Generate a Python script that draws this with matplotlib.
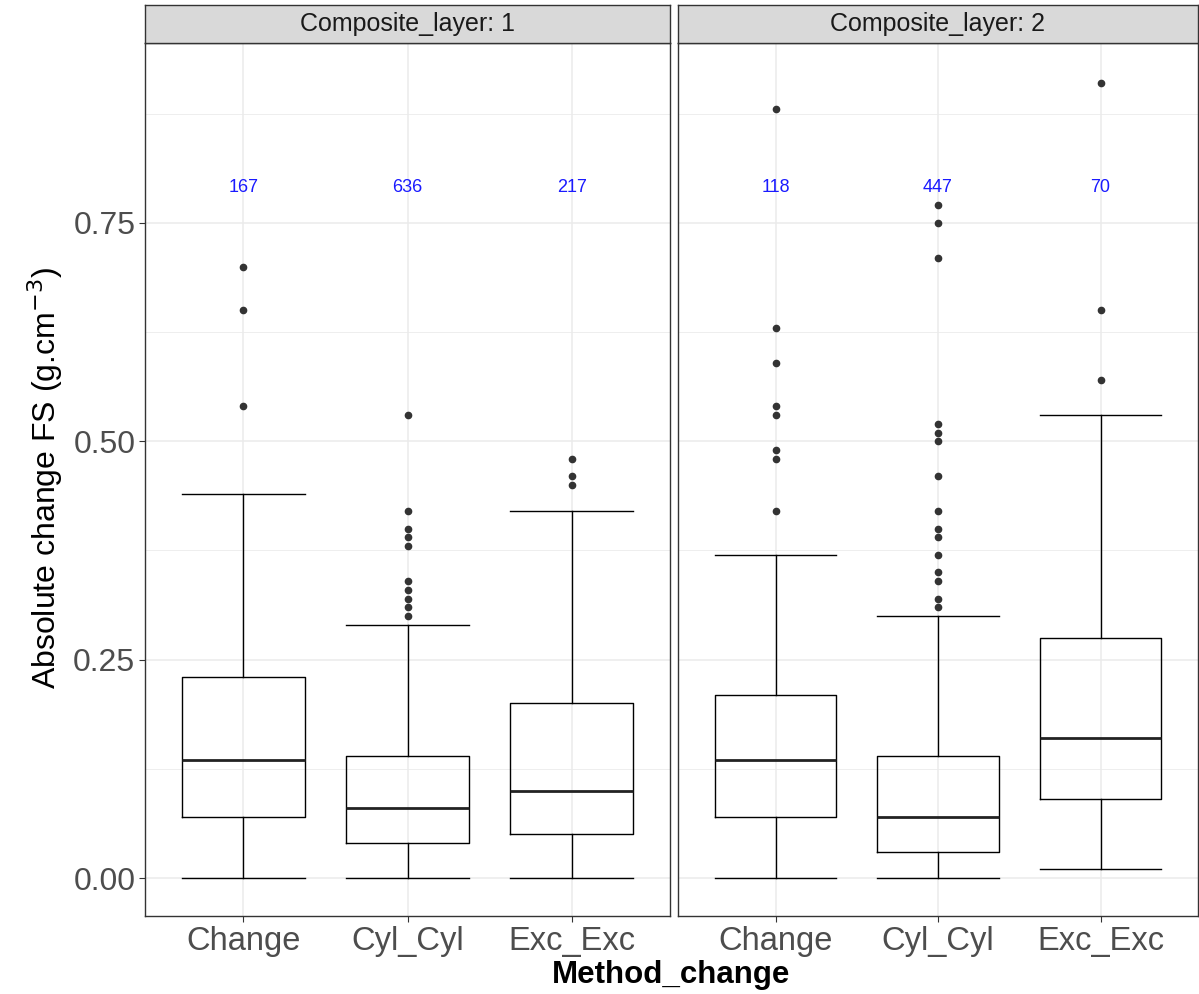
import matplotlib
matplotlib.use("Agg")
import matplotlib.pyplot as plt
from matplotlib.ticker import MultipleLocator

plt.rcParams['font.family'] = ['Liberation Sans', 'DejaVu Sans']

categories = ["Change", "Cyl_Cyl", "Exc_Exc"]
layers = ["Composite_layer: 1", "Composite_layer: 2"]

# box stats per layer: (whislo, q1, med, q3, whishi)
layer1_stats = [
    (0.00, 0.07, 0.135, 0.23, 0.44),
    (0.00, 0.04, 0.08, 0.14, 0.29),
    (0.00, 0.05, 0.10, 0.20, 0.42),
]
layer2_stats = [
    (0.00, 0.07, 0.135, 0.21, 0.37),
    (0.00, 0.03, 0.07, 0.14, 0.30),
    (0.01, 0.09, 0.16, 0.275, 0.53),
]
layer1_outliers = [
    [0.70, 0.65, 0.54],
    [0.53, 0.42, 0.40, 0.39, 0.38, 0.34, 0.33, 0.32, 0.31, 0.30],
    [0.48, 0.46, 0.45],
]
layer2_outliers = [
    [0.88, 0.63, 0.59, 0.54, 0.53, 0.49, 0.48, 0.42],
    [0.77, 0.75, 0.71, 0.52, 0.51, 0.50, 0.46, 0.42, 0.40, 0.39, 0.37, 0.35, 0.34, 0.32, 0.31],
    [0.91, 0.65, 0.57],
]
layer1_counts = [167, 636, 217]
layer2_counts = [118, 447, 70]
count_y = 0.79

fig = plt.figure(figsize=(11.99, 9.94), dpi=100)
W, H = 1199, 994
bottom_px, top_px, strip_top_px = 916, 43, 5
panels_px = [(145, 670), (678, 1198)]

all_stats = [layer1_stats, layer2_stats]
all_out = [layer1_outliers, layer2_outliers]
all_counts = [layer1_counts, layer2_counts]

for i, (x0, x1) in enumerate(panels_px):
    ax = fig.add_axes([x0 / W, 1 - bottom_px / H, (x1 - x0) / W, (bottom_px - top_px) / H])
    stats = []
    for (lo, q1, med, q3, hi), fl in zip(all_stats[i], all_out[i]):
        stats.append(dict(whislo=lo, q1=q1, med=med, q3=q3, whishi=hi, fliers=fl))
    pos = [1, 2, 3]
    ax.bxp(stats, positions=pos, widths=0.75, capwidths=0.75, showfliers=True,
           boxprops=dict(color='black', lw=1.0),
           whiskerprops=dict(color='black', lw=1.0),
           capprops=dict(color='black', lw=1.0),
           medianprops=dict(color='#222222', lw=2.0),
           flierprops=dict(marker='o', markerfacecolor='#333333', markeredgecolor='#333333',
                           markersize=4.5, linestyle='none'))
    for p, c in zip(pos, all_counts[i]):
        ax.text(p, count_y, str(c), color='#1a1aff', fontsize=13, ha='center', va='center')
    ax.set_xlim(0.4, 3.6)
    ax.set_ylim(-0.0435, 0.956)
    ax.yaxis.set_major_locator(MultipleLocator(0.25))
    ax.yaxis.set_minor_locator(MultipleLocator(0.125))
    ax.set_xticks(pos)
    ax.set_xticklabels(categories, fontsize=23.5, color='#4d4d4d')
    ax.grid(True, which='major', color='#ebebeb', lw=1.1)
    ax.grid(True, which='minor', axis='y', color='#ebebeb', lw=0.6)
    ax.set_axisbelow(True)
    ax.tick_params(axis='both', which='major', length=4, color='#333333', width=0.8)
    ax.tick_params(axis='y', which='minor', length=0)
    ax.tick_params(axis='x', pad=3)
    if i == 0:
        ax.set_yticks([0, 0.25, 0.5, 0.75])
        ax.set_yticklabels(['0.00', '0.25', '0.50', '0.75'], fontsize=23, color='#4d4d4d')
        ax.tick_params(axis='y', pad=3)
    else:
        ax.tick_params(axis='y', labelleft=False, length=0)
    for s in ax.spines.values():
        s.set_color('#333333')
        s.set_linewidth(1.0)
    # strip
    sax = fig.add_axes([x0 / W, 1 - top_px / H, (x1 - x0) / W, (top_px - strip_top_px) / H])
    sax.set_facecolor('#d9d9d9')
    sax.set_xticks([]); sax.set_yticks([])
    for s in sax.spines.values():
        s.set_color('#333333')
        s.set_linewidth(1.0)
    sax.text(0.5, 0.5, layers[i], ha='center', va='center', fontsize=18, color='#1a1a1a',
             transform=sax.transAxes)

fig.text(45 / W, 1 - 478 / H, 'Absolute change FS (g.cm$^{-3}$)', rotation=90,
         ha='center', va='center', fontsize=23)
fig.text(671 / W, 1 - 983 / H, 'Method_change', ha='center', va='baseline',
         fontsize=22.5, fontweight='bold')

fig.savefig('out.png', dpi=100, facecolor='white')
